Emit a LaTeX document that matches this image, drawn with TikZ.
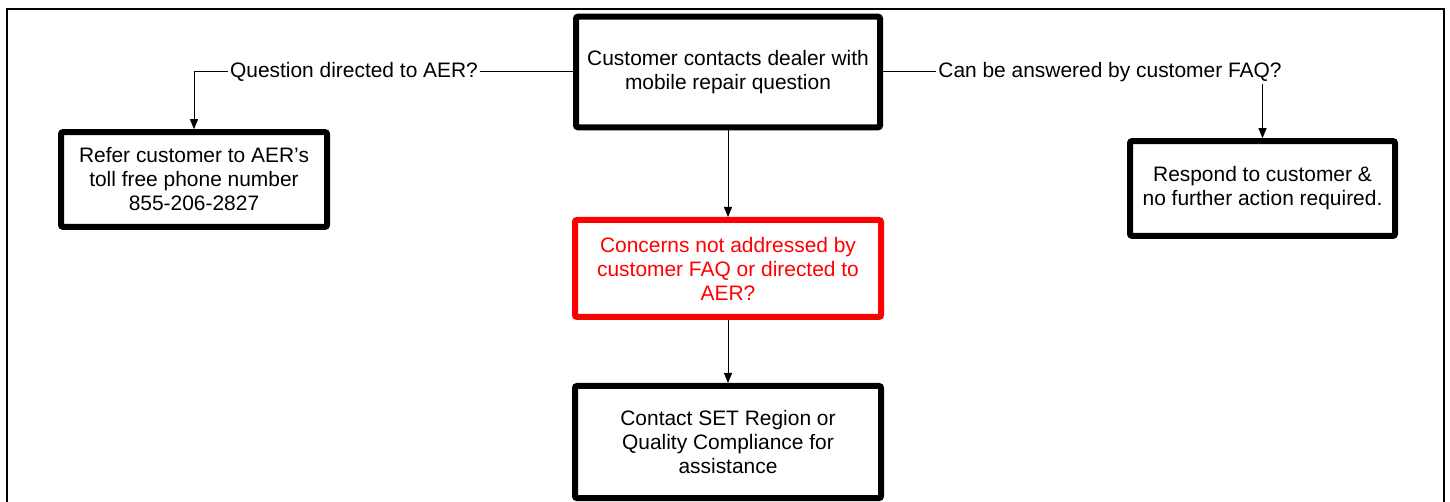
\documentclass[tikz,border=0pt]{standalone}
\usepackage{fontspec}
\setmainfont{Liberation Sans}
\usetikzlibrary{arrows.meta}

\tikzset{every picture/.style={line width=0.75pt}}
\tikzset{
  stepbox/.style={draw, line width=4.5pt, rounded corners=1.5pt, align=center, inner sep=0pt, font=\fontsize{15.7}{18}\selectfont},
  querybox/.style={stepbox, draw={rgb, 255:red, 255; green, 0; blue, 0 }, text={rgb, 255:red, 255; green, 0; blue, 0 }},
  lbl/.style={fill=white, inner sep=1.5pt, font=\fontsize{15.7}{18}\selectfont},
  conn/.style={line width=0.75pt},
  flow/.style={conn, -{Triangle[length=7.5pt,width=6pt]}}
}

\begin{document}
\begin{tikzpicture}[x=0.75pt,y=0.75pt,yscale=-1,xscale=1]
\useasboundingbox (0,0) rectangle (1450,502);

%Shape: Frame
\draw [line width=1.5pt] (7,502) -- (7,9) -- (1444,9) -- (1444,502) ;

%Shape: Rectangle [start]
\node [stepbox, minimum width=228pt, minimum height=83pt] (contact) at (728,72) {Customer contacts dealer with\\mobile repair question};
%Shape: Rectangle [AER]
\node [stepbox, minimum width=199.5pt, minimum height=71pt] (refer) at (194,179.5) {Refer customer to AER’s\\toll free phone number\\855-206-2827};
%Shape: Rectangle [FAQ]
\node [stepbox, minimum width=198.75pt, minimum height=71pt] (respond) at (1262.5,188.5) {Respond to customer \&\\no further action required.};
%Shape: Rectangle [red]
\node [querybox, minimum width=229.5pt, minimum height=72.75pt] (concern) at (728,268.5) {Concerns not addressed by\\customer FAQ or directed to\\AER?};
%Shape: Rectangle [end]
\node [stepbox, minimum width=229.5pt, minimum height=84pt] (setreg) at (728,442) {Contact SET Region or\\Quality Compliance for\\assistance};

% Text Node
\node [lbl] (askaer) at (354,72) {Question directed to AER?};
% Text Node
\node [lbl] (askfaq) at (1110,72) {Can be answered by customer FAQ?};

%Straight Lines
\draw [conn] (contact.west) -- (askaer.east) ;
\draw [flow] (askaer.west) -| (refer.north) ;
\draw [conn] (contact.east) -- (askfaq.west) ;
\draw [flow] (askfaq.south -| respond.north) -- (respond.north) ;
\draw [flow] (contact.south) -- (concern.north) ;
\draw [flow] (concern.south) -- (setreg.north) ;

\end{tikzpicture}
\end{document}
